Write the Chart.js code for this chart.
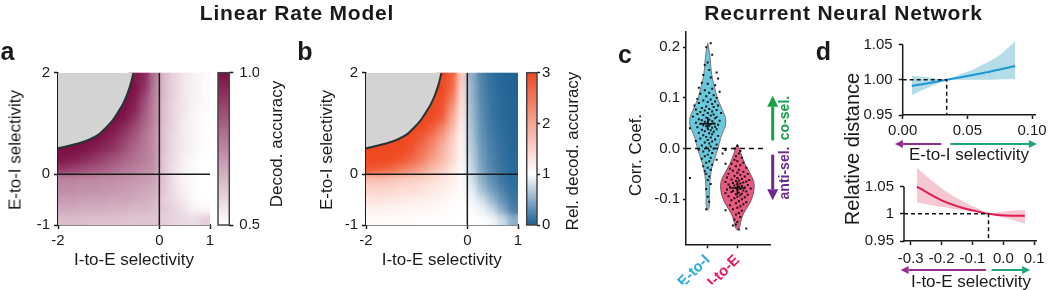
<!DOCTYPE html>
<html>
<head>
<meta charset="utf-8">
<title>Linear Rate Model / Recurrent Neural Network</title>
<script src="https://cdn.jsdelivr.net/npm/chart.js@4.4.1/dist/chart.umd.min.js"></script>
<style>
  body { margin: 0; background: #fff; }
  #fig { position: relative; width: 1050px; height: 290px; overflow: hidden;
         font-family: "Liberation Sans", Arial, sans-serif; color: #1a1a1a; }
  #fig canvas { position: absolute; }
  .lbl { position: absolute; white-space: nowrap; line-height: 1; }
</style>
</head>
<body>
<div id="fig"></div>
<script>
// ---------- panels a, b : linear rate model heatmaps ----------
const _ = null;
const heatX = [-1.9, -1.7, -1.5, -1.3, -1.1, -0.9, -0.7, -0.5, -0.3, -0.1, 0.1, 0.3, 0.5, 0.7, 0.9];
const heatY = [1.9, 1.7, 1.5, 1.3, 1.1, 0.9, 0.7, 0.5, 0.3, 0.1, -0.1, -0.3, -0.5, -0.7, -0.9];
const heatStep = 0.2;

// decoding accuracy (panel a), rows top -> bottom
const accuracy = [
  [_, _, _, _, _, _, _, 0.98, 0.95, 0.80, 0.64, 0.59, 0.55, 0.53, 0.51],
  [_, _, _, _, _, _, 1.00, 1.00, 0.93, 0.78, 0.64, 0.59, 0.55, 0.53, 0.51],
  [_, _, _, _, _, _, 1.00, 0.98, 0.89, 0.77, 0.64, 0.59, 0.55, 0.53, 0.51],
  [_, _, _, _, _, 1.00, 1.00, 0.96, 0.86, 0.76, 0.63, 0.58, 0.55, 0.52, 0.51],
  [_, _, _, _, _, 1.00, 0.99, 0.93, 0.84, 0.76, 0.63, 0.58, 0.54, 0.52, 0.50],
  [_, _, _, _, 1.00, 0.98, 0.94, 0.88, 0.81, 0.75, 0.62, 0.58, 0.54, 0.52, 0.50],
  [_, _, 1.00, 1.00, 0.98, 0.95, 0.90, 0.85, 0.79, 0.74, 0.62, 0.57, 0.54, 0.52, 0.50],
  [1.00, 1.00, 0.99, 0.97, 0.95, 0.92, 0.87, 0.82, 0.78, 0.74, 0.62, 0.57, 0.54, 0.52, 0.50],
  [0.98, 0.97, 0.95, 0.92, 0.89, 0.86, 0.83, 0.80, 0.77, 0.74, 0.61, 0.57, 0.53, 0.51, 0.50],
  [0.92, 0.90, 0.88, 0.86, 0.84, 0.82, 0.79, 0.77, 0.75, 0.73, 0.61, 0.56, 0.53, 0.51, 0.50],
  [0.76, 0.76, 0.75, 0.75, 0.74, 0.74, 0.73, 0.72, 0.71, 0.69, 0.62, 0.56, 0.52, 0.51, 0.50],
  [0.74, 0.74, 0.73, 0.73, 0.72, 0.72, 0.71, 0.70, 0.69, 0.68, 0.61, 0.56, 0.53, 0.51, 0.50],
  [0.71, 0.71, 0.70, 0.70, 0.70, 0.69, 0.69, 0.68, 0.67, 0.66, 0.60, 0.57, 0.54, 0.51, 0.50],
  [0.68, 0.68, 0.67, 0.67, 0.67, 0.66, 0.66, 0.65, 0.65, 0.64, 0.61, 0.59, 0.56, 0.53, 0.52],
  [0.64, 0.64, 0.64, 0.63, 0.63, 0.63, 0.63, 0.62, 0.62, 0.62, 0.60, 0.59, 0.58, 0.57, 0.60]
];

// relative decoding accuracy (panel b)
const relAccuracy = [
  [_, _, _, _, _, _, _, 3.0, 2.8, 1.5, 0.50, 0.22, 0.10, 0.05, 0.03],
  [_, _, _, _, _, _, 3.0, 3.0, 2.7, 1.4, 0.52, 0.23, 0.11, 0.05, 0.03],
  [_, _, _, _, _, _, 3.0, 3.0, 2.5, 1.35, 0.54, 0.24, 0.12, 0.06, 0.03],
  [_, _, _, _, _, 3.0, 3.0, 2.9, 2.2, 1.3, 0.56, 0.26, 0.13, 0.06, 0.04],
  [_, _, _, _, _, 3.0, 3.0, 2.8, 2.0, 1.2, 0.58, 0.28, 0.14, 0.07, 0.04],
  [_, _, _, _, 3.0, 3.0, 2.8, 2.4, 1.8, 1.15, 0.60, 0.30, 0.15, 0.08, 0.04],
  [_, _, 3.0, 3.0, 3.0, 2.8, 2.5, 2.1, 1.6, 1.12, 0.63, 0.32, 0.17, 0.09, 0.05],
  [3.0, 3.0, 3.0, 3.0, 2.9, 2.6, 2.3, 1.9, 1.5, 1.1, 0.66, 0.35, 0.19, 0.10, 0.05],
  [3.0, 3.0, 3.0, 2.9, 2.7, 2.4, 2.1, 1.8, 1.45, 1.08, 0.70, 0.38, 0.21, 0.11, 0.06],
  [2.9, 2.8, 2.7, 2.5, 2.3, 2.1, 1.8, 1.6, 1.3, 1.05, 0.74, 0.42, 0.24, 0.13, 0.07],
  [1.7, 1.7, 1.65, 1.6, 1.55, 1.5, 1.4, 1.3, 1.2, 1.05, 0.80, 0.48, 0.28, 0.15, 0.08],
  [1.5, 1.5, 1.45, 1.4, 1.38, 1.33, 1.27, 1.2, 1.12, 1.03, 0.88, 0.60, 0.38, 0.21, 0.10],
  [1.3, 1.3, 1.28, 1.25, 1.22, 1.2, 1.16, 1.12, 1.07, 1.02, 0.94, 0.78, 0.54, 0.32, 0.15],
  [1.15, 1.15, 1.13, 1.12, 1.1, 1.09, 1.07, 1.05, 1.03, 1.01, 0.98, 0.92, 0.76, 0.46, 0.20],
  [1.05, 1.05, 1.05, 1.04, 1.04, 1.03, 1.02, 1.02, 1.01, 1.0, 1.0, 0.98, 0.94, 0.78, 0.50]
];

// edge of the unstable (grey) region
const boundaryX = [-2, -1.7, -1.4, -1.2, -1.07, -0.93, -0.81, -0.72, -0.64, -0.57, -0.51];
const boundaryY = [0.51, 0.58, 0.675, 0.78, 0.9, 1.05, 1.23, 1.38, 1.56, 1.76, 2.0];

const heatXTicks = [-2, 0, 1];
const heatYTicks = [-1, 0, 2];
const accTicks = [0.5, 1.0];
const accTickLabels = ['0.5', '1.0'];
const relTicks = [0, 1, 2, 3];
const relTickLabels = ['0', '1', '2', '3'];
const accStops = [0.5, 1.0];
const accColors = ['#ffffff', '#7b0f45'];
const relStops = [0, 1, 3];
const relColors = ['#1a5f92', '#ffffff', '#ee4a22'];

// ---------- panel c : correlation coefficients ----------
const connections = ['E-to-I', 'I-to-E'];
const connColors = ['#29a9e1', '#e8185c'];
const violinFill = ['#68c8dc', '#e8587f'];
const violinCenters = [1, 2];
const violinY_EI = [0.208, 0.19, 0.17, 0.146, 0.12, 0.1, 0.08, 0.06, 0.045, 0.035, 0.02, 0.0, -0.02, -0.037, -0.055, -0.07, -0.1, -0.115, -0.122];
const violinW_EI = [0, 0.057, 0.093, 0.133, 0.233, 0.323, 0.467, 0.6, 0.6, 0.527, 0.433, 0.343, 0.233, 0.14, 0.093, 0.067, 0.053, 0.05, 0];
const violinY_IE = [0.009, 0.0, -0.01, -0.03, -0.046, -0.063, -0.075, -0.09, -0.108, -0.128, -0.14, -0.148, -0.155, -0.161];
const violinW_IE = [0, 0.067, 0.117, 0.25, 0.4, 0.54, 0.567, 0.533, 0.417, 0.21, 0.133, 0.1, 0.073, 0];
// single networks: [horizontal jitter, corr. coef.]
const dots_EI = [
  [0.1,0.208],[-0.05,0.2],[0.15,0.185],[0.0,0.17],[-0.1,0.165],[0.05,0.155],[0.3,0.15],[-0.15,0.145],[0.1,0.14],
  [0.35,0.138],[-0.2,0.13],[0.0,0.128],[0.25,0.125],[-0.3,0.12],[0.15,0.118],[-0.1,0.115],[0.4,0.112],[0.05,0.11],
  [-0.25,0.108],[0.2,0.105],[-0.05,0.103],[0.3,0.1],[-0.35,0.098],[0.1,0.097],[-0.15,0.095],[0.25,0.093],[0.0,0.092],
  [-0.3,0.09],[0.15,0.088],[-0.45,0.085],[0.35,0.085],[-0.05,0.083],[0.2,0.082],[-0.2,0.08],[0.05,0.078],[-0.4,0.077],
  [0.3,0.076],[-0.1,0.075],[0.15,0.073],[-0.25,0.072],[0.45,0.07],[0.0,0.07],[-0.35,0.068],[0.2,0.067],[-0.15,0.066],
  [0.1,0.065],[-0.5,0.063],[0.3,0.062],[-0.05,0.061],[0.25,0.06],[-0.3,0.058],[0.05,0.057],[-0.2,0.056],[0.4,0.055],
  [0.15,0.054],[-0.1,0.053],[0.0,0.052],[-0.4,0.051],[0.2,0.05],[-0.25,0.049],[0.1,0.048],[0.35,0.047],[-0.15,0.046],
  [0.05,0.045],[-0.05,0.044],[0.25,0.043],[-0.35,0.042],[0.15,0.041],[-0.6,0.04],[0.0,0.039],[0.3,0.038],[-0.2,0.037],
  [0.1,0.036],[-0.1,0.034],[0.2,0.033],[-0.3,0.031],[0.05,0.03],[-0.9,0.028],[0.15,0.028],[-0.15,0.026],[0.35,0.025],
  [-0.05,0.023],[0.1,0.022],[-0.25,0.02],[0.25,0.018],[0.0,0.017],[-0.4,0.015],[0.15,0.014],[-0.1,0.012],[0.05,0.01],
  [0.3,0.008],[-0.2,0.006],[0.1,0.004],[-0.05,0.002],[0.2,0.0],[-0.3,-0.002],[0.05,-0.004],[-0.15,-0.006],[0.15,-0.009],
  [0.5,-0.01],[0.0,-0.012],[-0.1,-0.015],[0.1,-0.018],[-0.2,-0.02],[0.3,-0.022],[0.05,-0.025],[-0.05,-0.028],[0.6,-0.03],
  [0.15,-0.032],[-0.15,-0.035],[0.0,-0.038],[0.1,-0.042],[-0.1,-0.045],[-0.05,-0.05],[0.05,-0.055],[-0.6,-0.058],
  [0.0,-0.062],[0.1,-0.07],[-0.05,-0.08],[0.0,-0.095],[0.05,-0.105],[-0.05,-0.12],[0.6,-0.122]
];
const dots_IE = [
  [0.0,0.005],[-0.1,0.0],[0.1,-0.005],[-0.4,-0.003],[0.05,-0.01],[-0.05,-0.015],[0.15,-0.018],[-0.1,-0.022],[0.0,-0.025],
  [0.2,-0.028],[-0.2,-0.03],[0.1,-0.033],[-0.05,-0.035],[0.3,-0.038],[-0.25,-0.04],[0.05,-0.042],[-0.15,-0.044],
  [0.2,-0.046],[0.0,-0.048],[-0.3,-0.05],[0.35,-0.05],[0.1,-0.052],[-0.1,-0.054],[0.25,-0.055],[-0.35,-0.057],[0.0,-0.058],
  [0.15,-0.06],[-0.2,-0.061],[0.4,-0.062],[0.05,-0.063],[-0.05,-0.064],[0.3,-0.065],[-0.4,-0.066],[0.2,-0.067],
  [-0.15,-0.068],[0.1,-0.069],[0.0,-0.07],[-0.3,-0.071],[0.35,-0.072],[-0.1,-0.073],[0.15,-0.074],[0.05,-0.075],
  [-0.25,-0.076],[0.25,-0.077],[-0.05,-0.078],[0.45,-0.079],[0.1,-0.08],[-0.35,-0.081],[0.0,-0.082],[0.2,-0.083],
  [-0.15,-0.084],[0.3,-0.085],[-0.2,-0.086],[0.05,-0.087],[-0.4,-0.088],[0.15,-0.089],[-0.05,-0.09],[0.35,-0.091],
  [0.1,-0.092],[-0.3,-0.094],[0.0,-0.095],[0.25,-0.096],[-0.1,-0.098],[0.15,-0.1],[-0.2,-0.102],[0.05,-0.104],
  [0.3,-0.106],[-0.05,-0.108],[0.2,-0.11],[-0.25,-0.112],[0.1,-0.114],[0.0,-0.117],[-0.15,-0.12],[0.15,-0.123],
  [0.05,-0.127],[-0.05,-0.13],[0.1,-0.135],[-0.1,-0.14],[0.0,-0.145],[-0.05,-0.15],[-0.15,-0.152],[0.3,-0.158],[0.05,-0.16]
];
const medians = [0.049, -0.078];
const corrTicks = [-0.1, 0, 0.1, 0.2];
const corrTickLabels = ['-0.1', '0.0', '0.1', '0.2'];

// ---------- panel d : relative distance ----------
const eiSel  = [0.007, 0.015, 0.025, 0.034, 0.045, 0.055, 0.065, 0.075, 0.087];
const eiDist = [0.9912, 0.9937, 0.9968, 1.0, 1.0035, 1.007, 1.0105, 1.0145, 1.0195];
const eiHi   = [1.0057, 1.0042, 1.002, 1.0, 1.008, 1.015, 1.024, 1.035, 1.055];
const eiLo   = [0.978, 0.985, 0.993, 1.0, 1.0, 1.0, 1.0, 1.0005, 1.001];
const eiCross = 0.034;
const ieSel  = [-0.28, -0.24, -0.2, -0.16, -0.12, -0.08, -0.048, -0.02, 0.01, 0.04, 0.07];
const ieDist = [1.05, 1.037, 1.025, 1.016, 1.009, 1.004, 1.0, 0.998, 0.997, 0.9965, 0.9967];
const ieHi   = [1.085, 1.065, 1.047, 1.032, 1.02, 1.009, 1.0, 1.003, 1.005, 1.006, 1.007];
const ieLo   = [1.021, 1.017, 1.013, 1.009, 1.006, 1.003, 1.0, 0.996, 0.992, 0.987, 0.982];
const ieCross = -0.048;
const eiTicks = [0, 0.05, 0.1];
const eiTickLabels = ['0.00', '0.05', '0.10'];
const ieTicks = [-0.3, -0.2, -0.1, 0, 0.1];
const ieTickLabels = ['-0.3', '-0.2', '-0.1', '0.0', '0.1'];
const distTicks = [0.95, 1.0, 1.05];
const distTickLabelsTop = ['0.95', '1.00', '1.05'];
const distTickLabelsBottom = ['0.95', '1', '1.05'];

// ---------- helpers ----------
const INK = '#1a1a1a';
const GREEN_C = '#17a04a', PURPLE_C = '#6a2b8e';
const GREEN_D = '#1ea57d', PURPLE_D = '#932e8e';
Chart.defaults.font.family = '"Liberation Sans", Arial, sans-serif';
Chart.defaults.color = INK;
const fig = document.getElementById('fig');
const common = { responsive: false, animation: false, events: [],
  plugins: { legend: { display: false }, tooltip: { enabled: false } } };

function addCanvas(box) {
  const c = document.createElement('canvas');
  c.width = box.w; c.height = box.h;
  c.style.left = box.l + 'px'; c.style.top = box.t + 'px';
  c.style.width = box.w + 'px'; c.style.height = box.h + 'px';
  fig.appendChild(c);
  return c;
}
function pad(box, area, ax) {
  return { left: area.l - box.l - (ax.left || 0), top: area.t - box.t,
           right: box.l + box.w - area.r - (ax.right || 0),
           bottom: box.t + box.h - area.b - (ax.bottom || 0) };
}
function linAxis(o) {
  const horiz = o.pos === 'bottom';
  return {
    type: 'linear', position: o.pos, min: o.min, max: o.max,
    afterBuildTicks: s => { s.ticks = o.ticks.map(v => ({ value: v })); },
    afterFit: s => { if (horiz) s.height = o.size; else s.width = o.size; },
    grid: { drawOnChartArea: false, drawTicks: true, tickLength: o.tickLen, tickWidth: 1.5, tickColor: INK },
    border: { display: o.border !== false, color: INK, width: 1.5 },
    ticks: { autoSkip: false, minRotation: o.rot || 0, maxRotation: o.rot || 0, padding: o.pad,
             color: o.colors ? (c => o.colors[c.index]) : INK,
             font: o.font || { size: 15 }, callback: (v, i) => o.labels[i] }
  };
}
function makeCmap(stops, colors) {
  const rgb = colors.map(h => [1, 3, 5].map(k => parseInt(h.substr(k, 2), 16)));
  return v => {
    let i = 0;
    while (i < stops.length - 2 && v > stops[i + 1]) i++;
    const t = Math.max(0, Math.min(1, (v - stops[i]) / (stops[i + 1] - stops[i])));
    const c = rgb[i].map((a, k) => Math.round(a + (rgb[i + 1][k] - a) * t));
    return `rgb(${c[0]},${c[1]},${c[2]})`;
  };
}
function arrow(ctx, x1, y1, x2, y2, color, lw, hl, hw) {
  const a = Math.atan2(y2 - y1, x2 - x1);
  const bx = x2 - hl * Math.cos(a), by = y2 - hl * Math.sin(a);
  ctx.save();
  ctx.strokeStyle = color; ctx.fillStyle = color; ctx.lineWidth = lw;
  ctx.beginPath(); ctx.moveTo(x1, y1); ctx.lineTo(bx, by); ctx.stroke();
  ctx.beginPath(); ctx.moveTo(x2, y2);
  ctx.lineTo(bx + hw / 2 * Math.sin(a), by - hw / 2 * Math.cos(a));
  ctx.lineTo(bx - hw / 2 * Math.sin(a), by + hw / 2 * Math.cos(a));
  ctx.closePath(); ctx.fill();
  ctx.restore();
}
const pts = (xs, ys) => xs.map((x, i) => ({ x, y: ys[i] }));
const lineDs = (data, color, width, extra) => Object.assign(
  { type: 'line', data, borderColor: color, borderWidth: width, pointRadius: 0, fill: false }, extra || {});

// soften the cell edges like an image shown with smoothing
const smoothCells = { id: 'smoothCells', afterDatasetDraw(chart, args) {
  if (args.index !== 0) return;
  const { ctx, chartArea: a, canvas } = chart;
  const off = document.createElement('canvas');
  off.width = canvas.width; off.height = canvas.height;
  const octx = off.getContext('2d');
  args.meta.data.forEach(el => el.draw(octx, a));
  ctx.save();
  ctx.beginPath(); ctx.rect(a.left, a.top, a.width, a.height); ctx.clip();
  ctx.filter = 'blur(3px)';
  ctx.drawImage(off, 0, 0);
  ctx.restore();
} };

// ---------- heatmaps ----------
function heatChart(box, area, grid, cmap) {
  const cells = [];
  heatY.forEach((y, j) => heatX.forEach((x, i) => {
    if (grid[j][i] !== null) cells.push({ x, y, v: grid[j][i] });
  }));
  new Chart(addCanvas(box), {
    type: 'scatter',
    data: { datasets: [
      { data: cells, pointStyle: 'rect', pointBorderWidth: 0, clip: 0, order: 3,
        pointRadius: c => {
          const s = c.chart.scales.x;
          return (Math.abs(s.getPixelForValue(heatStep) - s.getPixelForValue(0)) + 0.8) * Math.SQRT1_2;
        },
        pointBackgroundColor: c => c.raw ? cmap(c.raw.v) : '#fff' },
      lineDs(pts(boundaryX, boundaryY), '#263434', 2,
        { fill: 'end', backgroundColor: '#d3d3d3', cubicInterpolationMode: 'monotone', order: 2 }),
      lineDs([{ x: -2, y: 0 }, { x: 1, y: 0 }], INK, 1.5, { order: 1 }),
      lineDs([{ x: 0, y: -1 }, { x: 0, y: 2 }], INK, 1.5, { order: 1 })
    ] },
    options: { ...common,
      layout: { padding: pad(box, area, { left: 40, bottom: 30 }) },
      scales: {
        x: linAxis({ pos: 'bottom', min: -2, max: 1, ticks: heatXTicks, labels: heatXTicks.map(String), size: 30, tickLen: 4, pad: 3 }),
        y: linAxis({ pos: 'left', min: -1, max: 2, ticks: heatYTicks, labels: heatYTicks.map(String), size: 40, tickLen: 4, pad: 4 })
      } },
    plugins: [smoothCells]
  });
}
function colorbar(box, area, min, max, ticks, labels, stops, colors, tickLen, tickPad) {
  new Chart(addCanvas(box), {
    type: 'scatter',
    data: { datasets: [] },
    options: { ...common,
      layout: { padding: pad(box, area, { right: 30 }) },
      scales: {
        x: { display: false, min: 0, max: 1 },
        y: linAxis({ pos: 'right', min, max, ticks, labels, size: 30, tickLen, pad: tickPad, border: false })
      } },
    plugins: [{ id: 'cbar', beforeDatasetsDraw(chart) {
      const { ctx, chartArea: a, scales: { y } } = chart;
      const g = ctx.createLinearGradient(0, y.getPixelForValue(max), 0, y.getPixelForValue(min));
      stops.forEach((s, i) => g.addColorStop((max - s) / (max - min), colors[i]));
      ctx.save();
      ctx.fillStyle = g; ctx.fillRect(a.left, a.top, a.width, a.height);
      ctx.strokeStyle = '#444'; ctx.lineWidth = 1.5; ctx.strokeRect(a.left, a.top, a.width, a.height);
      ctx.restore();
    } }]
  });
}

heatChart({ l: 0, t: 20, w: 300, h: 270 }, { l: 58, t: 72.7, r: 210, b: 225 }, accuracy, makeCmap(accStops, accColors));
colorbar({ l: 210, t: 40, w: 70, h: 220 }, { l: 218, t: 72.7, r: 229.3, b: 225 }, 0.5, 1.0,
  accTicks, accTickLabels, accStops, accColors, 4, 6);
heatChart({ l: 300, t: 20, w: 230, h: 270 }, { l: 366, t: 72.7, r: 518, b: 225 }, relAccuracy, makeCmap(relStops, relColors));
colorbar({ l: 518, t: 40, w: 60, h: 220 }, { l: 526.7, t: 72.7, r: 537, b: 225 }, 0, 3,
  relTicks, relTickLabels, relStops, relColors, 3, 2);

// ---------- panel c ----------
function violinOutline(c, ys, ws) {
  const right = ys.map((y, i) => ({ x: c + ws[i], y }));
  const left = ys.map((y, i) => ({ x: c - ws[i], y })).reverse();
  return right.concat(left);
}
const boxC = { l: 600, t: 20, w: 185, h: 270 };
const areaC = { l: 686, t: 32, r: 770, b: 244.3 };
const dotDs = (c, dots) => ({ data: dots.map(d => ({ x: c + d[0], y: d[1] })), pointStyle: 'rect',
  pointRadius: 1.4, pointBorderWidth: 0, pointBackgroundColor: '#111', order: 1 });
const medianDs = [];
medians.forEach((m, i) => {
  const c = violinCenters[i];
  medianDs.push(lineDs([{ x: c - 0.27, y: m }, { x: c + 0.27, y: m }], '#111', 1.5, { order: 0 }));
  medianDs.push(lineDs([{ x: c, y: m - 0.013 }, { x: c, y: m + 0.013 }], '#111', 1.5, { order: 0 }));
});
new Chart(addCanvas(boxC), {
  type: 'scatter',
  data: { datasets: [
    lineDs(violinOutline(violinCenters[0], violinY_EI, violinW_EI), '#857078', 1,
      { fill: 'shape', backgroundColor: violinFill[0], tension: 0.3, order: 4 }),
    lineDs(violinOutline(violinCenters[1], violinY_IE, violinW_IE), '#6e5a60', 1,
      { fill: 'shape', backgroundColor: violinFill[1], tension: 0.3, order: 4 }),
    lineDs([{ x: 0.267, y: 0 }, { x: 2.95, y: 0 }], '#111', 1.5, { borderDash: [5, 4], order: 2 }),
    dotDs(violinCenters[0], dots_EI),
    dotDs(violinCenters[1], dots_IE),
    ...medianDs
  ] },
  options: { ...common,
    layout: { padding: pad(boxC, areaC, { left: 40, bottom: 40 }) },
    scales: {
      x: linAxis({ pos: 'bottom', min: 0.267, max: 3.1, ticks: [1, 2], labels: connections, size: 40, tickLen: 4, pad: 3,
                   rot: 45, colors: connColors, font: { size: 15, weight: 'bold' } }),
      y: linAxis({ pos: 'left', min: -0.189, max: 0.23, ticks: corrTicks, labels: corrTickLabels, size: 40, tickLen: 3, pad: 3 })
    } },
  plugins: [{ id: 'selArrows', afterDatasetsDraw(chart) {
    const { ctx, chartArea: a, scales: { y } } = chart;
    const x = a.right + 2.7;
    arrow(ctx, x, y.getPixelForValue(0.016), x, y.getPixelForValue(0.104), GREEN_C, 3, 11, 11);
    arrow(ctx, x, y.getPixelForValue(-0.012), x, y.getPixelForValue(-0.102), PURPLE_C, 3, 11, 11);
  } }]
});

// ---------- panel d ----------
function distChart(box, area, o) {
  new Chart(addCanvas(box), {
    type: 'scatter',
    data: { datasets: [
      lineDs(pts(o.xs, o.hi), 'rgba(0,0,0,0)', 0, { fill: '+1', backgroundColor: o.band, tension: 0.3, order: 3 }),
      lineDs(pts(o.xs, o.lo), 'rgba(0,0,0,0)', 0, { tension: 0.3, order: 3 }),
      lineDs(pts(o.xs, o.ys), o.color, 2, { tension: 0.3, order: 1 }),
      lineDs([{ x: o.xMin, y: 1 }, { x: o.cross, y: 1 }, { x: o.cross, y: 0.95 }], '#111', 1.5,
        { borderDash: [4, 3], order: 0 })
    ] },
    options: { ...common,
      layout: { padding: pad(box, area, { left: 40, bottom: 25 }) },
      scales: {
        x: linAxis({ pos: 'bottom', min: o.xMin, max: o.xMax, ticks: o.xTicks, labels: o.xLabels, size: 25, tickLen: 4, pad: o.xPad }),
        y: linAxis({ pos: 'left', min: 0.95, max: o.yMax, ticks: distTicks, labels: o.yLabels, size: 40, tickLen: 4, pad: 6, border: false })
      } },
    plugins: [{ id: 'axisAndArrows', afterDatasetsDraw(chart) {
      const { ctx, chartArea: a, scales: { x, y } } = chart;
      ctx.save();
      ctx.strokeStyle = INK; ctx.lineWidth = 1.5;
      ctx.beginPath(); ctx.moveTo(a.left, y.getPixelForValue(0.95) + 0.75); ctx.lineTo(a.left, y.getPixelForValue(1.05)); ctx.stroke();
      ctx.restore();
      const ay = a.bottom + 29;
      arrow(ctx, x.getPixelForValue(o.arrows[0][0]), ay, x.getPixelForValue(o.arrows[0][1]), ay, PURPLE_D, 2, 8, 8);
      arrow(ctx, x.getPixelForValue(o.arrows[1][0]), ay, x.getPixelForValue(o.arrows[1][1]), ay, GREEN_D, 2, 8, 8);
    } }]
  });
}
distChart({ l: 840, t: 20, w: 210, h: 140 }, { l: 902.7, t: 37.45, r: 1036.7, b: 115 }, {
  xs: eiSel, ys: eiDist, hi: eiHi, lo: eiLo, cross: eiCross, color: '#1a98d5', band: '#b5dde8',
  xMin: 0, xMax: 0.1026, yMax: 1.06, xTicks: eiTicks, xLabels: eiTickLabels, yLabels: distTickLabelsTop, xPad: 3,
  arrows: [[0.0299, -0.006], [0.0368, 0.1037]]
});
distChart({ l: 840, t: 150, w: 210, h: 140 }, { l: 904, t: 157, r: 1036, b: 241 }, {
  xs: ieSel, ys: ieDist, hi: ieHi, lo: ieLo, cross: ieCross, color: '#e5194d', band: '#f6c8d4',
  xMin: -0.322, xMax: 0.106, yMax: 1.09, xTicks: ieTicks, xLabels: ieTickLabels, yLabels: distTickLabelsBottom, xPad: 5,
  arrows: [[-0.056, -0.333], [-0.038, 0.087]]
});

// ---------- text ----------
function label(text, x, y, css, rotate) {
  const d = document.createElement('div');
  d.className = 'lbl';
  d.textContent = text;
  d.style.cssText += css;
  d.style.left = x + 'px'; d.style.top = y + 'px';
  d.style.transform = 'translate(-50%,-50%)' + (rotate ? ' rotate(-90deg)' : '');
  fig.appendChild(d);
}
const TITLE = 'font-weight:bold;font-size:21px;letter-spacing:0.8px;';
const LETTER = 'font-weight:bold;font-size:25px;';
const AX = 'font-size:17px;';
label('Linear Rate Model', 297, 12, TITLE);
label('Recurrent Neural Network', 843.5, 12, TITLE);
label('a', 7.5, 51.3, LETTER);
label('b', 305, 51.3, LETTER);
label('c', 625, 53.8, LETTER);
label('d', 823.5, 51.3, LETTER);
label('E-to-I selectivity', 15, 150, AX, true);
label('I-to-E selectivity', 134, 259.4, AX);
label('Decod. accuracy', 275.5, 143.5, AX, true);
label('E-to-I selectivity', 325.5, 150, AX, true);
label('I-to-E selectivity', 441.7, 259.4, AX);
label('Rel. decod. accuracy', 571.5, 150.8, AX, true);
label('Corr. Coef.', 635, 155, AX, true);
label('co-sel.', 784, 117.5, 'font-weight:bold;font-size:14px;color:' + GREEN_C + ';', true);
label('anti-sel.', 784, 173, 'font-weight:bold;font-size:14px;color:' + PURPLE_C + ';', true);
label('Relative distance', 852, 149, 'font-size:20px;', true);
label('E-to-I selectivity', 969, 154, AX);
label('I-to-E selectivity', 971, 280.5, AX);
</script>
</body>
</html>
